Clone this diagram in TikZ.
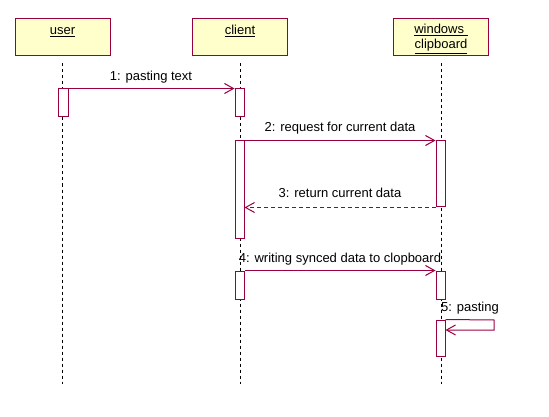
\documentclass[tikz,border=0pt]{standalone}
\usepackage{fontspec}
\setmainfont{Liberation Sans}
\usetikzlibrary{arrows.meta}
\definecolor{rosered}{HTML}{990040}
\definecolor{roseyellow}{HTML}{FFFFCC}
\tikzset{
  obj/.style={draw=rosered, fill=roseyellow, line width=1pt, minimum width=95pt, minimum height=37pt, inner sep=0pt},
  act/.style={draw=rosered, fill=white, line width=1pt, minimum width=9pt, inner sep=0pt},
  lifeline/.style={draw=black, line width=0.8pt, dash pattern=on 3pt off 3pt},
  msg/.style={draw=rosered, line width=1pt, -{Straight Barb[length=9pt,width=10pt,line width=1pt]}},
  reply/.style={msg, dash pattern=on 4pt off 3pt},
  txt/.style={font=\fontsize{13}{15}\selectfont, inner sep=0pt, anchor=base, text=black},
}
\begin{document}
\begin{tikzpicture}[x=1pt,y=-1pt]
\useasboundingbox (0,0) rectangle (549,417);
% objects
\node[obj] (user) at (62.5,37.5) {};
\node[obj] (client) at (240,37.5) {};
\node[obj] (clip) at (441,37.5) {};
\node[txt] (tuser) at (62.5,35) {\underline{user}};
\node[txt] (tclient) at (240,35) {\underline{client}};
\node[txt] (tclip1) at (441,34) {\underline{windows\ }};
\node[txt] (tclip2) at (441,49) {\underline{clipboard}};
% lifeline ends
\coordinate (end) at (0,384);
\draw[lifeline] ([yshift=-7pt]user.south) -- (user.south |- end);
\draw[lifeline] ([yshift=-7pt]client.south) -- (client.south |- end);
\draw[lifeline] ([yshift=-7pt]clip.south) -- (clip.south |- end);
% activations
\node[act, minimum width=10pt, minimum height=28pt] (a1) at (63,103) {};
\node[act, minimum height=28pt] (c1) at (239.5,103) {};
\node[act, minimum height=97pt] (c2) at (239.5,189.5) {};
\node[act, minimum height=65pt] (w1) at (440.5,173.5) {};
\node[act, minimum height=28pt] (c3) at (240,285) {};
\node[act, minimum height=28pt] (w2) at (440.5,285) {};
\node[act, minimum height=36pt] (w3) at (440.5,338) {};
% messages
\draw[msg] (a1.north east) -- (c1.north west);
\node[txt] (m1) at (151,81) {1: pasting text};
\draw[msg] (c2.north east) -- (w1.north west);
\node[txt] (m2) at (340,132) {2: request for current data};
\draw[reply] ([yshift=-1pt]w1.south west) -- ([yshift=-1pt]w1.south west -| c2.east);
\node[txt] (m3) at (340,197) {3: return current data};
\draw[msg] (c3.north east) -- (w2.north west);
\node[txt] (m4) at (340,262) {4: writing synced data to clopboard};
\coordinate (s1) at (494,320);
\coordinate (s2) at (494,330);
\draw[msg] (w3.north east) -- (s1) -- (s2) -- (s2 -| w3.east);
\node[txt, anchor=base west] (m5) at (441,311) {5: pasting};
\end{tikzpicture}
\end{document}
